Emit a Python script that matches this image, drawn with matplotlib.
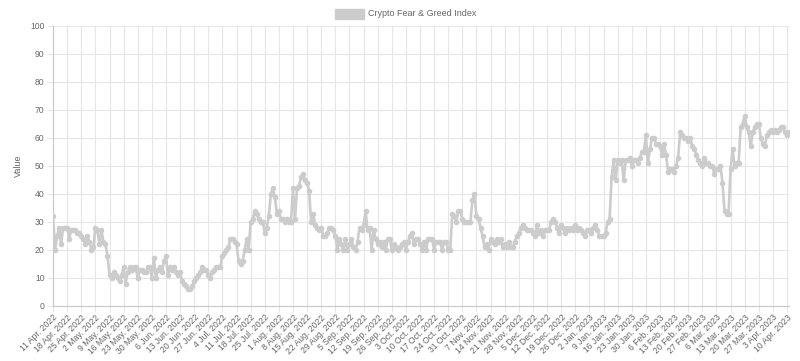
import numpy as np
import pandas as pd
import matplotlib
matplotlib.use("Agg")
import matplotlib.pyplot as plt

# daily index values, 11 Apr 2022 .. 11 Apr 2023 (one row per week)
start_date = "2022-04-11"
fear_greed = [
    32, 20, 25, 28, 22, 28, 28,
    28, 24, 27, 27, 27, 26, 26,
    25, 24, 22, 25, 23, 20, 21,
    28, 27, 22, 27, 23, 22, 18,
    11, 10, 12, 11, 10, 9, 11,
    14, 8, 12, 14, 13, 14, 14,
    10, 13, 13, 12, 12, 14, 14,
    10, 17, 10, 13, 14, 12, 16,
    18, 11, 14, 13, 14, 12, 11,
    12, 9, 8, 7, 6, 6, 7,
    9, 10, 11, 12, 14, 13, 13,
    11, 10, 12, 13, 14, 14, 14,
    18, 19, 20, 21, 24, 24, 23,
    22, 16, 15, 16, 20, 24, 20,
    30, 31, 34, 33, 31, 30, 30,
    26, 28, 32, 40, 42, 39, 33,
    34, 31, 31, 30, 31, 30, 30,
    42, 31, 42, 43, 46, 47, 45,
    44, 41, 30, 33, 29, 28, 27,
    28, 25, 25, 26, 28, 28, 27,
    25, 20, 24, 22, 20, 24, 20,
    22, 24, 21, 20, 23, 28, 27,
    29, 34, 27, 28, 20, 27, 24,
    22, 23, 21, 23, 20, 24, 24,
    20, 22, 21, 20, 21, 22, 23,
    20, 23, 25, 26, 22, 24, 24,
    22, 20, 23, 20, 24, 24, 24,
    20, 23, 23, 23, 20, 23, 23,
    20, 20, 33, 32, 30, 34, 34,
    31, 30, 30, 30, 30, 38, 40,
    32, 31, 28, 25, 21, 22, 20,
    24, 23, 22, 24, 23, 24, 21,
    22, 21, 23, 21, 21, 23, 25,
    26, 28, 29, 28, 27, 27, 27,
    26, 25, 29, 26, 27, 25, 27,
    27, 27, 30, 31, 30, 28, 26,
    29, 28, 26, 28, 27, 28, 27,
    29, 27, 28, 27, 26, 25, 27,
    27, 26, 28, 29, 27, 25, 25,
    25, 26, 30, 31, 46, 52, 45,
    52, 51, 52, 45, 52, 52, 53,
    50, 52, 52, 51, 53, 55, 55,
    61, 51, 56, 60, 60, 58, 58,
    57, 54, 58, 54, 48, 49, 49,
    48, 50, 53, 62, 61, 60, 60,
    59, 60, 57, 56, 54, 52, 51,
    50, 53, 51, 51, 50, 50, 47,
    49, 49, 50, 44, 34, 33, 33,
    49, 56, 50, 51, 51, 64, 65,
    68, 64, 62, 57, 62, 64, 65,
    65, 60, 58, 57, 61, 62, 63,
    62, 63, 62, 63, 64, 64, 62,
    61, 62,
]
series_label = "Crypto Fear & Greed Index"
y_label = "Value"

dates = pd.date_range(start_date, periods=len(fear_greed), freq="D")
labels = [f"{d.day} {d.strftime('%b')}. {d.year}" for d in dates]
x = np.arange(len(fear_greed))

line_color = "#cccccc"
text_color = "#666666"
grid_color = "#e6e6e6"

plt.rcParams["font.family"] = ["Liberation Sans", "DejaVu Sans"]

fig = plt.figure(figsize=(8, 3.61), dpi=100)
ax = fig.add_axes([0.0663, 0.1524, 0.9200, 0.7756])

ax.plot(x, fear_greed, color=line_color, linewidth=1.9, marker="o",
        markersize=3.0, markerfacecolor=line_color, markeredgecolor=line_color,
        zorder=3)

ax.set_xlim(0, len(fear_greed) - 1)
ax.set_ylim(0, 100)
ax.set_yticks(np.arange(0, 101, 10))
tick_idx = x[::7]
ax.set_xticks(tick_idx)
ax.set_xticklabels([labels[i] for i in tick_idx], rotation=45, ha="right",
                   rotation_mode="anchor")

ax.grid(True, color=grid_color, linewidth=0.8, zorder=0)
for side in ["top", "right"]:
    ax.spines[side].set_visible(False)
for side in ["left", "bottom"]:
    ax.spines[side].set_color("#c8c8c8")
    ax.spines[side].set_linewidth(0.8)
ax.tick_params(axis="both", colors=grid_color, labelcolor=text_color,
               labelsize=6.2, length=4, width=0.8)
ax.tick_params(axis="y", pad=2)
ax.tick_params(axis="x", pad=1)

ax.set_ylabel(y_label, color=text_color, fontsize=6.5, labelpad=5)

# legend drawn like the chart.js header
fig.patches.append(plt.Rectangle((335 / 800, 1 - 19 / 361), 29 / 800, 10 / 361,
                                 transform=fig.transFigure, color=line_color))
fig.text(368 / 800, 1 - 14 / 361, series_label, color=text_color, fontsize=6.5,
         va="center", ha="left")

fig.savefig("out.png", dpi=100)
